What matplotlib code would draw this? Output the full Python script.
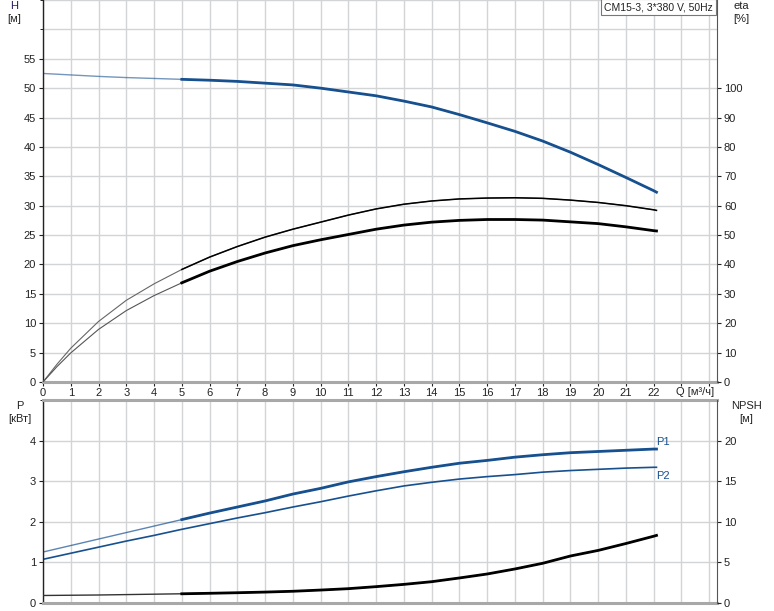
import numpy as np
import matplotlib.pyplot as plt

plt.rcParams['font.family'] = ['Liberation Sans', 'DejaVu Sans']

# flow points (m3/h)
q_main = [0, 1, 2, 3, 4, 5, 6, 7, 8, 9, 10, 11, 12, 13, 14, 15, 16, 17, 18, 19, 20, 21, 22, 22.1]
q_eta = [0, 0.5] + q_main[1:]

# head H [m]
head = [52.5, 52.25, 52.0, 51.8, 51.65, 51.5, 51.35, 51.15, 50.85, 50.55, 50.0, 49.35, 48.7,
        47.8, 46.8, 45.5, 44.1, 42.65, 41.0, 39.1, 37.0, 34.8, 32.55, 32.3]
# efficiencies [%]
eta_upper = [0, 6.0, 11.5, 20.6, 27.8, 33.4, 38.3, 42.5, 46.1, 49.3, 52.0, 54.4, 56.8, 58.9,
             60.5, 61.6, 62.3, 62.6, 62.7, 62.5, 61.9, 61.1, 60.0, 58.6, 58.4]
eta_lower = [0, 5.2, 9.9, 17.9, 24.3, 29.4, 33.75, 37.7, 41.0, 43.9, 46.4, 48.4, 50.2, 52.0,
             53.4, 54.4, 55.0, 55.3, 55.3, 55.1, 54.5, 53.9, 52.8, 51.5, 51.4]
# power [kW]
p1 = [1.25, 1.41, 1.57, 1.73, 1.89, 2.05, 2.21, 2.36, 2.51, 2.68, 2.82, 2.98, 3.11, 3.23,
      3.34, 3.44, 3.51, 3.59, 3.65, 3.70, 3.73, 3.76, 3.79, 3.79]
p2 = [1.07, 1.22, 1.37, 1.52, 1.66, 1.81, 1.95, 2.09, 2.22, 2.36, 2.49, 2.63, 2.76, 2.88,
      2.97, 3.05, 3.11, 3.16, 3.22, 3.26, 3.29, 3.32, 3.34, 3.34]
# NPSH [m]
npsh = [0.89, 0.92, 0.95, 1.0, 1.05, 1.1, 1.16, 1.23, 1.31, 1.41, 1.56, 1.73, 1.98, 2.26,
        2.59, 3.05, 3.54, 4.16, 4.86, 5.76, 6.45, 7.3, 8.2, 8.3]

x_ticks = list(range(0, 23))
h_ticks = list(range(0, 60, 5))
eta_ticks = list(range(0, 110, 10))
p_ticks = [0, 1, 2, 3, 4]
npsh_ticks = [0, 5, 10, 15, 20]

BLUE = '#17508f'
GRID = '#d2d4d6'
AXGRAY = '#a8a8a8'
Q_MIN = 5
FS = 8

fig = plt.figure(figsize=(7.74, 6.11), dpi=100)


def split(q, y):
    q = np.array(q)
    y = np.array(y)
    m = q >= Q_MIN
    return q, y, q[m], y[m]


def style(ax, ymax, yticks):
    ax.set_xlim(0, 24.28)
    ax.set_ylim(0, ymax)
    ax.set_xticks(np.arange(0, 25))
    ax.grid(True, color=GRID, lw=1)
    ax.set_axisbelow(True)
    ax.spines['left'].set_color('#222222')
    ax.spines['left'].set_linewidth(1)
    ax.spines['right'].set_visible(False)
    ax.set_yticks(yticks)
    ax.tick_params(axis='y', length=3, width=0.8, labelsize=FS, pad=2, colors='#222222')


# top chart: H and eta
ax1 = fig.add_axes([43 / 774, 1 - 382 / 611, 674 / 774, 382 / 611])
style(ax1, 65, h_ticks)
ax1.set_yticks(np.arange(0, 66, 5), minor=True)
ax1.grid(True, which='minor', axis='y', color=GRID, lw=1)
ax1.set_yticks(h_ticks)
ax1.spines['top'].set_visible(False)
ax1.spines['bottom'].set_color(AXGRAY)
ax1.spines['bottom'].set_linewidth(2.2)
ax1.tick_params(axis='x', length=3, width=0.8, labelsize=FS, pad=1, colors='#222222')
ax1.set_xticklabels([str(v) if v in x_ticks else '' for v in range(25)])
ax1.text(23.5, -0.9, 'Q [м³/ч]', fontsize=FS, ha='center', va='top', color='#222222',
         transform=ax1.transData)

q, y, qt, yt = split(q_main, head)
ax1.plot(q, y, color=BLUE, lw=1, alpha=0.6)
ax1.plot(qt, yt, color=BLUE, lw=2)

ax1r = ax1.twinx()
ax1r.set_ylim(0, 130)
ax1r.set_yticks(eta_ticks)
for s in ['left', 'top', 'bottom']:
    ax1r.spines[s].set_visible(False)
ax1r.spines['right'].set_color('#555555')
ax1r.tick_params(axis='y', length=3, width=0.8, labelsize=FS, pad=2, colors='#222222')
q, y, qt, yt = split(q_eta, eta_upper)
ax1r.plot(q, y, color='#666666', lw=0.8)
ax1r.plot(qt, yt, color='black', lw=1.1)
q, y, qt, yt = split(q_eta, eta_lower)
ax1r.plot(q, y, color='#555555', lw=0.8)
ax1r.plot(qt, yt, color='black', lw=2)

fig.text(14 / 774, 1 - 6 / 611, 'H', fontsize=FS, ha='center', va='center', color='#2a1a5a')
fig.text(14 / 774, 1 - 19 / 611, '[м]', fontsize=FS, ha='center', va='center', color='#222222')
fig.text(741 / 774, 1 - 6 / 611, 'eta', fontsize=FS, ha='center', va='center', color='#222222')
fig.text(741 / 774, 1 - 19 / 611, '[%]', fontsize=FS, ha='center', va='center', color='#222222')
fig.text(713 / 774, 1 - 7 / 611, 'CM15-3, 3*380 V, 50Hz', fontsize=7.5, ha='right', va='center',
         color='#222222',
         bbox=dict(boxstyle='square,pad=0.3', fc='white', ec='#777777', lw=0.8))

# bottom chart: P and NPSH
ax2 = fig.add_axes([43 / 774, 1 - 602.7 / 611, 674 / 774, 202.7 / 611])
style(ax2, 5, p_ticks)
ax2.set_yticks([0, 1, 2, 3, 4, 5], minor=True)
ax2.set_yticks(p_ticks)
for s in ['top', 'bottom']:
    ax2.spines[s].set_color(AXGRAY)
    ax2.spines[s].set_linewidth(2.2)
ax2.tick_params(axis='x', length=0, labelbottom=False)

q, y, qt, yt = split(q_main, p1)
ax2.plot(q, y, color=BLUE, lw=1, alpha=0.7)
ax2.plot(qt, yt, color=BLUE, lw=2)
ax2.plot(q_main, p2, color=BLUE, lw=1.2)
ax2.text(22.1, 3.97, 'P1', fontsize=FS, color=BLUE, ha='left', va='center')
ax2.text(22.1, 3.13, 'P2', fontsize=FS, color=BLUE, ha='left', va='center')

ax2r = ax2.twinx()
ax2r.set_ylim(0, 25)
ax2r.set_yticks(npsh_ticks)
for s in ['left', 'top', 'bottom']:
    ax2r.spines[s].set_visible(False)
ax2r.spines['right'].set_color('#555555')
ax2r.tick_params(axis='y', length=3, width=0.8, labelsize=FS, pad=2, colors='#222222')
q, y, qt, yt = split(q_main, npsh)
ax2r.plot(q, y, color='#333333', lw=1)
ax2r.plot(qt, yt, color='black', lw=2)

fig.text(20 / 774, 1 - 406 / 611, 'P', fontsize=FS, ha='center', va='center', color='#222222')
fig.text(20 / 774, 1 - 419 / 611, '[кВт]', fontsize=FS, ha='center', va='center', color='#222222')
fig.text(746 / 774, 1 - 406 / 611, 'NPSH', fontsize=FS, ha='center', va='center', color='#222222')
fig.text(746 / 774, 1 - 419 / 611, '[м]', fontsize=FS, ha='center', va='center', color='#222222')

fig.savefig('out.png', dpi=100)
